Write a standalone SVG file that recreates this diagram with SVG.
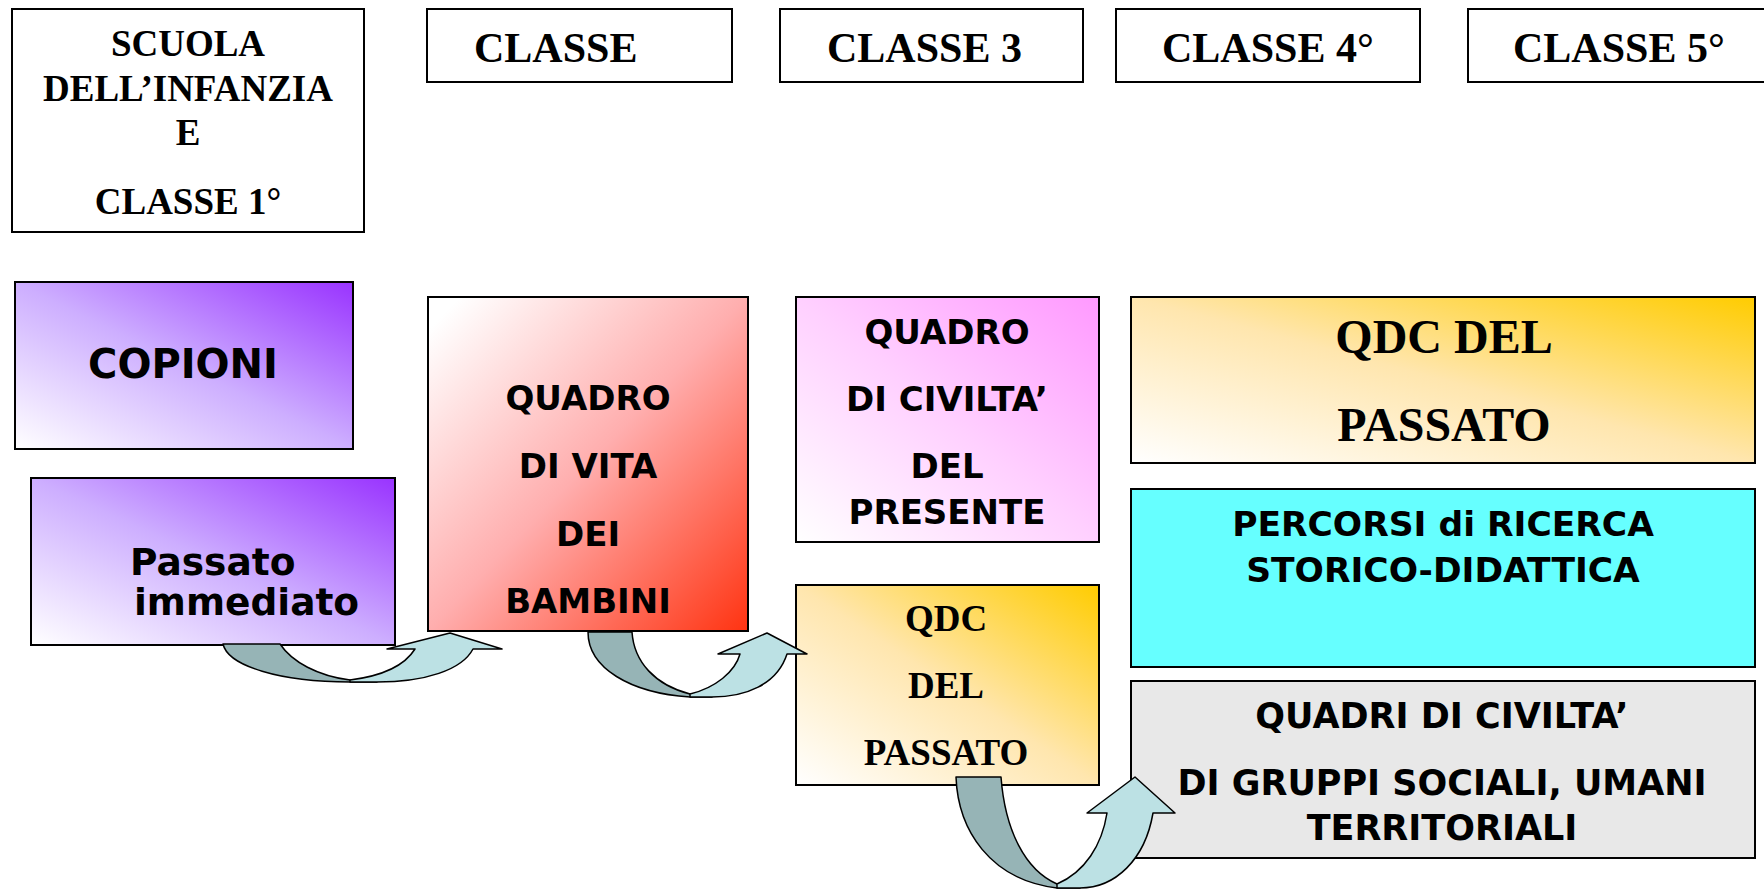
<svg xmlns="http://www.w3.org/2000/svg" width="1764" height="891" viewBox="0 0 1764 891">
<defs>
<linearGradient id="gPurple" x1="0" y1="1" x2="1" y2="0"><stop offset="0" stop-color="#FFFFFF"/><stop offset="0.5" stop-color="#CDAEFF"/><stop offset="1" stop-color="#9933FF"/></linearGradient>
<linearGradient id="gRed" x1="0" y1="0" x2="1" y2="1"><stop offset="0.05" stop-color="#FFFFFF"/><stop offset="0.5" stop-color="#FFAEAE"/><stop offset="1" stop-color="#FF3311"/></linearGradient>
<linearGradient id="gPink" x1="0" y1="1" x2="1" y2="0"><stop offset="0" stop-color="#FFFFFF"/><stop offset="0.5" stop-color="#FFD0FF"/><stop offset="1" stop-color="#FF99FF"/></linearGradient>
<linearGradient id="gOrange" x1="0" y1="1" x2="1" y2="0"><stop offset="0" stop-color="#FFFFFF"/><stop offset="0.5" stop-color="#FFE6AE"/><stop offset="1" stop-color="#FFCC00"/></linearGradient>
<style>
.box{stroke:#000;stroke-width:2}
.w{fill:#FFFFFF}
.serif{font-family:"Liberation Serif","Times New Roman",serif;font-weight:bold;fill:#000}
.sans{font-family:"DejaVu Sans",Verdana,sans-serif;font-weight:bold;fill:#000}
.c{text-anchor:middle}
.dark{fill:#96B4B6;stroke:#000;stroke-width:1.5;stroke-linejoin:round}
.light{fill:#BCE1E4;stroke:#000;stroke-width:1.5;stroke-linejoin:round}
</style>
</defs>
<rect width="1764" height="891" fill="#FFFFFF"/>

<g id="scuola">
<rect class="box w" x="12" y="9" width="352" height="223"/>
<text class="serif c" x="188" y="56" font-size="37">SCUOLA</text>
<text class="serif c" x="188" y="101" font-size="37">DELL’INFANZIA</text>
<text class="serif c" x="188" y="145" font-size="37">E</text>
<text class="serif c" x="188" y="214" font-size="37">CLASSE 1°</text>
</g>
<g id="classe2">
<rect class="box w" x="427" y="9" width="305" height="73"/>
<text class="serif" x="474" y="62" font-size="42">CLASSE</text>
</g>
<g id="classe3">
<rect class="box w" x="780" y="9" width="303" height="73"/>
<text class="serif" x="827" y="62" font-size="42">CLASSE 3</text>
</g>
<g id="classe4">
<rect class="box w" x="1116" y="9" width="304" height="73"/>
<text class="serif" x="1162" y="62" font-size="42">CLASSE 4°</text>
</g>
<g id="classe5">
<rect class="box w" x="1468" y="9" width="310" height="73"/>
<text class="serif" x="1513" y="62" font-size="42">CLASSE 5°</text>
</g>

<g id="copioni">
<rect class="box" fill="url(#gPurple)" x="15" y="282" width="338" height="167"/>
<text class="sans c" x="183" y="378" font-size="40">COPIONI</text>
</g>
<g id="passato-immediato">
<rect class="box" fill="url(#gPurple)" x="31" y="478" width="364" height="167"/>
<text class="sans" x="130" y="575" font-size="37.5">Passato</text>
<text class="sans" x="134" y="615" font-size="37.5">immediato</text>
</g>
<g id="quadro-vita">
<rect class="box" fill="url(#gRed)" x="428" y="297" width="320" height="334"/>
<text class="sans c" x="588" y="410" font-size="34">QUADRO</text>
<text class="sans c" x="588" y="478" font-size="34">DI VITA</text>
<text class="sans c" x="588" y="546" font-size="34">DEI</text>
<text class="sans c" x="588" y="613" font-size="34">BAMBINI</text>
</g>
<g id="quadro-civilta">
<rect class="box" fill="url(#gPink)" x="796" y="297" width="303" height="245"/>
<text class="sans c" x="947" y="344" font-size="34">QUADRO</text>
<text class="sans c" x="947" y="411" font-size="34">DI CIVILTA’</text>
<text class="sans c" x="947" y="478" font-size="34">DEL</text>
<text class="sans c" x="947" y="524" font-size="34">PRESENTE</text>
</g>
<g id="qdc-piccolo">
<rect class="box" fill="url(#gOrange)" x="796" y="585" width="303" height="200"/>
<text class="serif c" x="946" y="631" font-size="37">QDC</text>
<text class="serif c" x="946" y="698" font-size="37">DEL</text>
<text class="serif c" x="946" y="765" font-size="37">PASSATO</text>
</g>
<g id="qdc-grande">
<rect class="box" fill="url(#gOrange)" x="1131" y="297" width="624" height="166"/>
<text class="serif c" x="1444" y="353" font-size="48">QDC DEL</text>
<text class="serif c" x="1444" y="441" font-size="48">PASSATO</text>
</g>
<g id="percorsi">
<rect class="box" fill="#66FFFF" x="1131" y="489" width="624" height="178"/>
<text class="sans c" x="1443" y="536" font-size="34.5">PERCORSI di RICERCA</text>
<text class="sans c" x="1443" y="582" font-size="34.5">STORICO-DIDATTICA</text>
</g>
<g id="quadri-civilta">
<rect class="box" fill="#E8E8E8" x="1131" y="681" width="624" height="177"/>
<text class="sans c" x="1442" y="728" font-size="35">QUADRI DI CIVILTA’</text>
<text class="sans c" x="1442" y="795" font-size="35">DI GRUPPI SOCIALI, UMANI</text>
<text class="sans c" x="1442" y="840" font-size="35">TERRITORIALI</text>
</g>

<g id="connectors">
<path class="dark" d="M223,644 L280,644 C292,662 318,676 350,680 L377,682 L350,682 C280,682 228,666 223,644 Z"/>
<path class="light" d="M350,680 C382,676 405,665 415,649 L387,649 L450,633 L502,649 L473,649 C462,670 425,682 377,682 L350,682 Z"/>
<path class="dark" d="M588,632 L632,632 C634,662 655,685 690,694 L712,697 L690,697 C630,693 588,668 588,632 Z"/>
<path class="light" d="M690,694 C715,688 735,672 740,654 L718,654 L767,633 L807,654 L787,654 C777,685 745,697 712,697 L690,697 Z"/>
<path class="dark" d="M956,777 L1001,777 C1005,830 1025,870 1057,884 L1080,888 L1057,888 C990,880 958,830 956,777 Z"/>
<path class="light" d="M1057,884 C1085,872 1102,845 1107,813 L1087,813 L1135,777 L1175,813 L1153,813 C1145,860 1115,888 1080,888 L1057,888 Z"/>
</g>
</svg>
